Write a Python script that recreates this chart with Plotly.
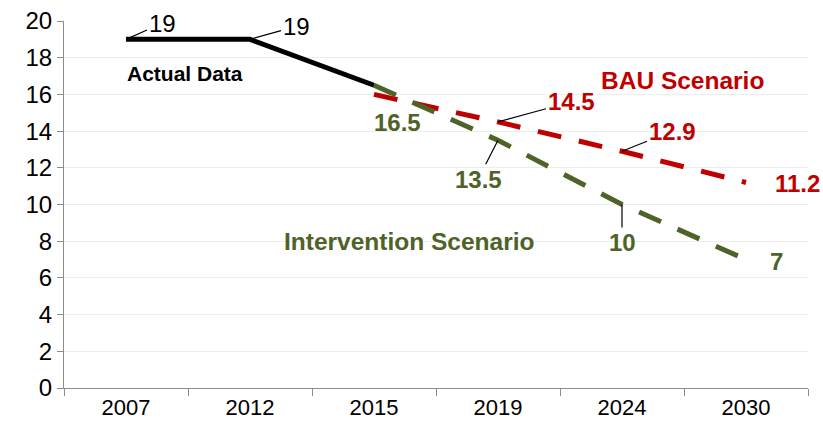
import plotly.graph_objects as go

years = ["2007", "2012", "2015", "2019", "2024", "2030"]

actual_years = ["2007", "2012", "2015"]
actual_vals = [19, 19, 16.5]

bau_years = ["2015", "2019", "2024", "2030"]
bau_vals = [16, 14.5, 12.9, 11.2]

interv_years = ["2015", "2019", "2024", "2030"]
interv_vals = [16.5, 13.5, 10, 7]

RED = "#C00000"
GREEN = "#4F6228"
FONT = "Liberation Sans, Arial, sans-serif"


def render_chart():
    fig = go.Figure()

    fig.add_trace(go.Scatter(
        x=bau_years, y=bau_vals, mode="lines",
        line=dict(color=RED, width=5, dash="24px,18px"),
        hoverinfo="skip",
    ))
    fig.add_trace(go.Scatter(
        x=interv_years, y=interv_vals, mode="lines",
        line=dict(color=GREEN, width=5, dash="24px,18px"),
        hoverinfo="skip",
    ))
    fig.add_trace(go.Scatter(
        x=actual_years, y=actual_vals, mode="lines",
        line=dict(color="black", width=5),
        hoverinfo="skip",
    ))

    annotations = []

    # numeric-looking category names get read as indices by annotations,
    # so position them by category index
    def pos(year):
        return years.index(year)

    # value labels with small leader lines (x, y, text, colour, bold, ax, ay)
    callouts = [
        (actual_years[0], actual_vals[0], "19", "black", False, 36, -16),
        (actual_years[1], actual_vals[1], "19", "black", False, 46, -13),
        (bau_years[1], bau_vals[1], "14.5", RED, True, 73, -20),
        (interv_years[1], interv_vals[1], "13.5", GREEN, True, -20, 39),
        (bau_years[2], bau_vals[2], "12.9", RED, True, 50, -20),
        (interv_years[2], interv_vals[2], "10", GREEN, True, 0, 38),
    ]
    for x, y, txt, col, bold, ax, ay in callouts:
        label = "<b>{}</b>".format(txt) if bold else txt
        annotations.append(dict(
            x=pos(x), y=y, xref="x", yref="y", text=label,
            font=dict(family=FONT, size=24, color=col),
            showarrow=True, arrowhead=0, arrowwidth=1.2, arrowcolor="black",
            ax=ax, ay=ay, standoff=0,
        ))

    # labels without leader lines
    plain = [
        (interv_years[0], interv_vals[0], "16.5", GREEN, 23, -37),
        (bau_years[3], bau_vals[3], "11.2", RED, 51, -1),
        (interv_years[3], interv_vals[3], "7", GREEN, 30, -2),
    ]
    for x, y, txt, col, xs, ys in plain:
        annotations.append(dict(
            x=pos(x), y=y, xref="x", yref="y", text="<b>{}</b>".format(txt),
            font=dict(family=FONT, size=24, color=col),
            showarrow=False, xshift=xs, yshift=ys,
        ))

    # series names
    names = [
        ("Actual Data", 0.163, 0.858, 21, "black"),
        ("BAU Scenario", 0.831, 0.839, 24.5, RED),
        ("Intervention Scenario", 0.465, 0.398, 24.5, GREEN),
    ]
    for txt, x, y, size, col in names:
        annotations.append(dict(
            text="<b>{}</b>".format(txt), x=x, y=y, xref="paper", yref="paper",
            xanchor="center", yanchor="middle", showarrow=False,
            font=dict(family=FONT, size=size, color=col),
        ))

    fig.update_layout(
        width=823, height=431,
        margin=dict(l=64, r=15, t=21, b=43, autoexpand=False),
        paper_bgcolor="white", plot_bgcolor="white",
        showlegend=False,
        font=dict(family=FONT, color="black"),
        annotations=annotations,
    )
    fig.update_xaxes(
        type="category", categoryorder="array", categoryarray=years,
        range=[-0.5, 5.5], tickson="boundaries",
        ticks="outside", ticklen=7, tickcolor="#8C8C8C",
        showline=True, linecolor="#8C8C8C", linewidth=1,
        showgrid=False, tickfont=dict(size=22),
    )
    fig.update_yaxes(
        range=[0, 20], dtick=2, ticks="outside", ticklen=6, tickcolor="#8C8C8C",
        showline=True, linecolor="#8C8C8C", linewidth=1,
        showgrid=True, gridcolor="#EDEDED", gridwidth=1,
        zeroline=False, tickfont=dict(size=24),
    )

    # drop the default page margin so the 823x431 figure fills the window
    fig.write_html("out.html", config={"displayModeBar": False},
                   post_script="document.body.style.margin='0';")


if __name__ == "__main__":
    render_chart()
